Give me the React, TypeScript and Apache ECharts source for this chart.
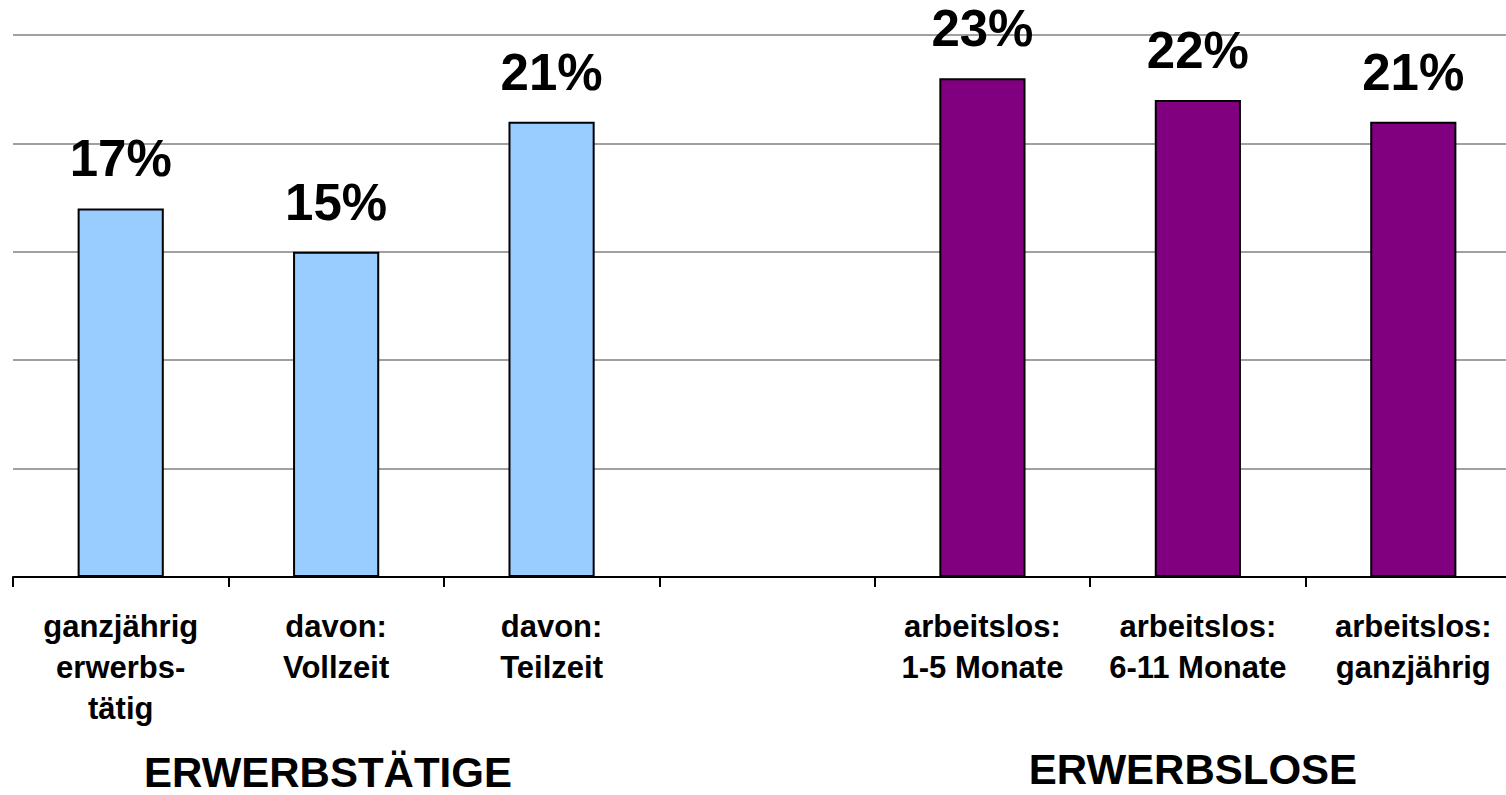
import React, { useEffect, useRef } from "react";
import * as echarts from "echarts";

const categories = [
  "ganzjährig\nerwerbs-\ntätig",
  "davon:\nVollzeit",
  "davon:\nTeilzeit",
  "",
  "arbeitslos:\n1-5 Monate",
  "arbeitslos:\n6-11 Monate",
  "arbeitslos:\nganzjährig",
];
const values: (number | null)[] = [17, 15, 21, null, 23, 22, 21];
const barColors = ["#99CCFF", "#99CCFF", "#99CCFF", "#99CCFF", "#800080", "#800080", "#800080"];
const groupTitles = ["ERWERBSTÄTIGE", "ERWERBSLOSE"];

const FONT = "'Liberation Sans', Arial, Helvetica, sans-serif";

export default function App() {
  const ref = useRef<HTMLDivElement>(null);
  useEffect(() => {
    document.body.style.margin = "0";
    const chart = echarts.init(ref.current!, null, { renderer: "svg" });
    chart.setOption({
      animation: false,
      backgroundColor: "#ffffff",
      grid: { left: 13, right: 19, top: 35, bottom: 218, containLabel: false },
      xAxis: {
        type: "category",
        data: categories,
        axisLine: { show: true, lineStyle: { color: "#000", width: 2 } },
        axisTick: { show: true, length: 10, lineStyle: { color: "#000", width: 2 } },
        axisLabel: {
          interval: 0,
          margin: 29,
          color: "#000",
          fontFamily: FONT,
          fontWeight: "bold",
          fontSize: 31,
          lineHeight: 41,
        },
      },
      yAxis: {
        type: "value",
        min: 0,
        max: 25,
        interval: 5,
        axisLine: { show: false },
        axisTick: { show: false },
        axisLabel: { show: false },
        splitLine: { show: true, lineStyle: { color: "#a0a0a0", width: 2 } },
      },
      series: [
        {
          type: "bar",
          barCategoryGap: "60%",
          data: values.map((v, i) => ({
            value: v,
            itemStyle: { color: barColors[i], borderColor: "#000", borderWidth: 2 },
          })),
          label: {
            show: true,
            position: "top",
            distance: 24,
            formatter: (p: any) => (p.value == null ? "" : p.value + "%"),
            color: "#000",
            fontFamily: FONT,
            fontWeight: "bold",
            fontSize: 51,
          },
        },
      ],
      graphic: [
        {
          type: "text",
          x: 328,
          y: 751,
          style: {
            text: groupTitles[0],
            fill: "#000",
            font: `bold 42px ${FONT}`,
            textAlign: "center",
            textVerticalAlign: "top",
          },
        },
        {
          type: "text",
          x: 1193,
          y: 748,
          style: {
            text: groupTitles[1],
            fill: "#000",
            font: `bold 42px ${FONT}`,
            textAlign: "center",
            textVerticalAlign: "top",
          },
        },
      ],
    });
    return () => chart.dispose();
  }, []);
  return (
    <div style={{ position: "fixed", left: 0, top: 0, width: 1506, height: 795, overflow: "hidden" }}>
      <div ref={ref} style={{ width: 1540, height: 795 }} />
    </div>
  );
}
